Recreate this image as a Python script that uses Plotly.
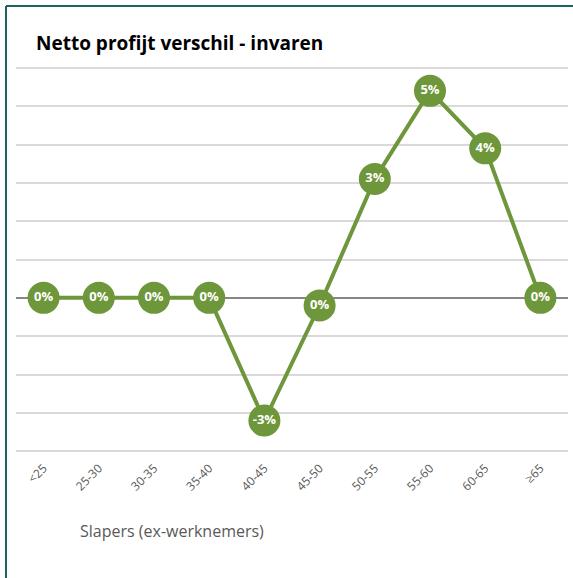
import plotly.graph_objects as go

categories = ["<25", "25-30", "30-35", "35-40", "40-45", "45-50", "50-55", "55-60", "60-65", "≥65"]
values = [0.0, 0.0, 0.0, 0.0, -0.032, -0.002, 0.031, 0.054, 0.039, 0.0]
title_text = "Netto profijt verschil - invaren"
x_title = "Slapers (ex-werknemers)"

labels = [f"{int(round(v * 100))}%" for v in values]

W, H = 573, 578
L, R, T, B = 16, 5, 64, 123
pw, ph = W - L - R, H - T - B

green = "#6E963A"
teal = "#1C635E"

fig = go.Figure()
fig.add_trace(go.Scatter(
    x=categories, y=values, mode="lines+markers+text",
    line=dict(color=green, width=4),
    marker=dict(size=32, color=green),
    text=labels, textposition="middle center",
    textfont=dict(color="white", size=13, family="Open Sans"),
    texttemplate="<b>%{text}</b>",
    cliponaxis=False, hoverinfo="skip",
))

def px(xp):
    return (xp - L) / pw

def py(yp):
    return (H - B - yp) / ph

fig.update_layout(
    width=W, height=H,
    margin=dict(l=L, r=R, t=T, b=B),
    paper_bgcolor="white", plot_bgcolor="white",
    showlegend=False,
    font=dict(family="Open Sans", color="#595959"),
    title=dict(text=f"<b>{title_text}</b>", x=36 / W, xanchor="left",
               y=1 - 43 / H, yanchor="middle", xref="container", yref="container",
               font=dict(size=19, color="black", family="Open Sans")),
    xaxis=dict(type="category", range=[-0.5, 9.5], showgrid=False, zeroline=False, showline=False,
               tickangle=-45, tickfont=dict(size=12, color="#595959"), ticks="",
               ticklabelstandoff=3),
    yaxis=dict(range=[-0.041, 0.061], tick0=0, dtick=0.01, showticklabels=False,
               showgrid=True, gridcolor="#D9D9D9", gridwidth=1.5,
               zeroline=True, zerolinecolor="#868686", zerolinewidth=1.5, ticks=""),
    annotations=[dict(text=x_title, xref="paper", yref="paper",
                      x=px(78), y=py(531), xanchor="left", yanchor="middle",
                      showarrow=False, font=dict(size=16, color="#595959"))],
    shapes=[
        dict(type="line", xref="paper", yref="paper", x0=px(6), x1=px(600), y0=py(6), y1=py(6),
             line=dict(color=teal, width=2)),
        dict(type="line", xref="paper", yref="paper", x0=px(6), x1=px(6), y0=py(6), y1=py(600),
             line=dict(color=teal, width=2)),
    ],
)

fig.write_html("out.html", config={"displayModeBar": False},
               post_script="document.body.style.margin='0';document.body.style.overflow='hidden';")
